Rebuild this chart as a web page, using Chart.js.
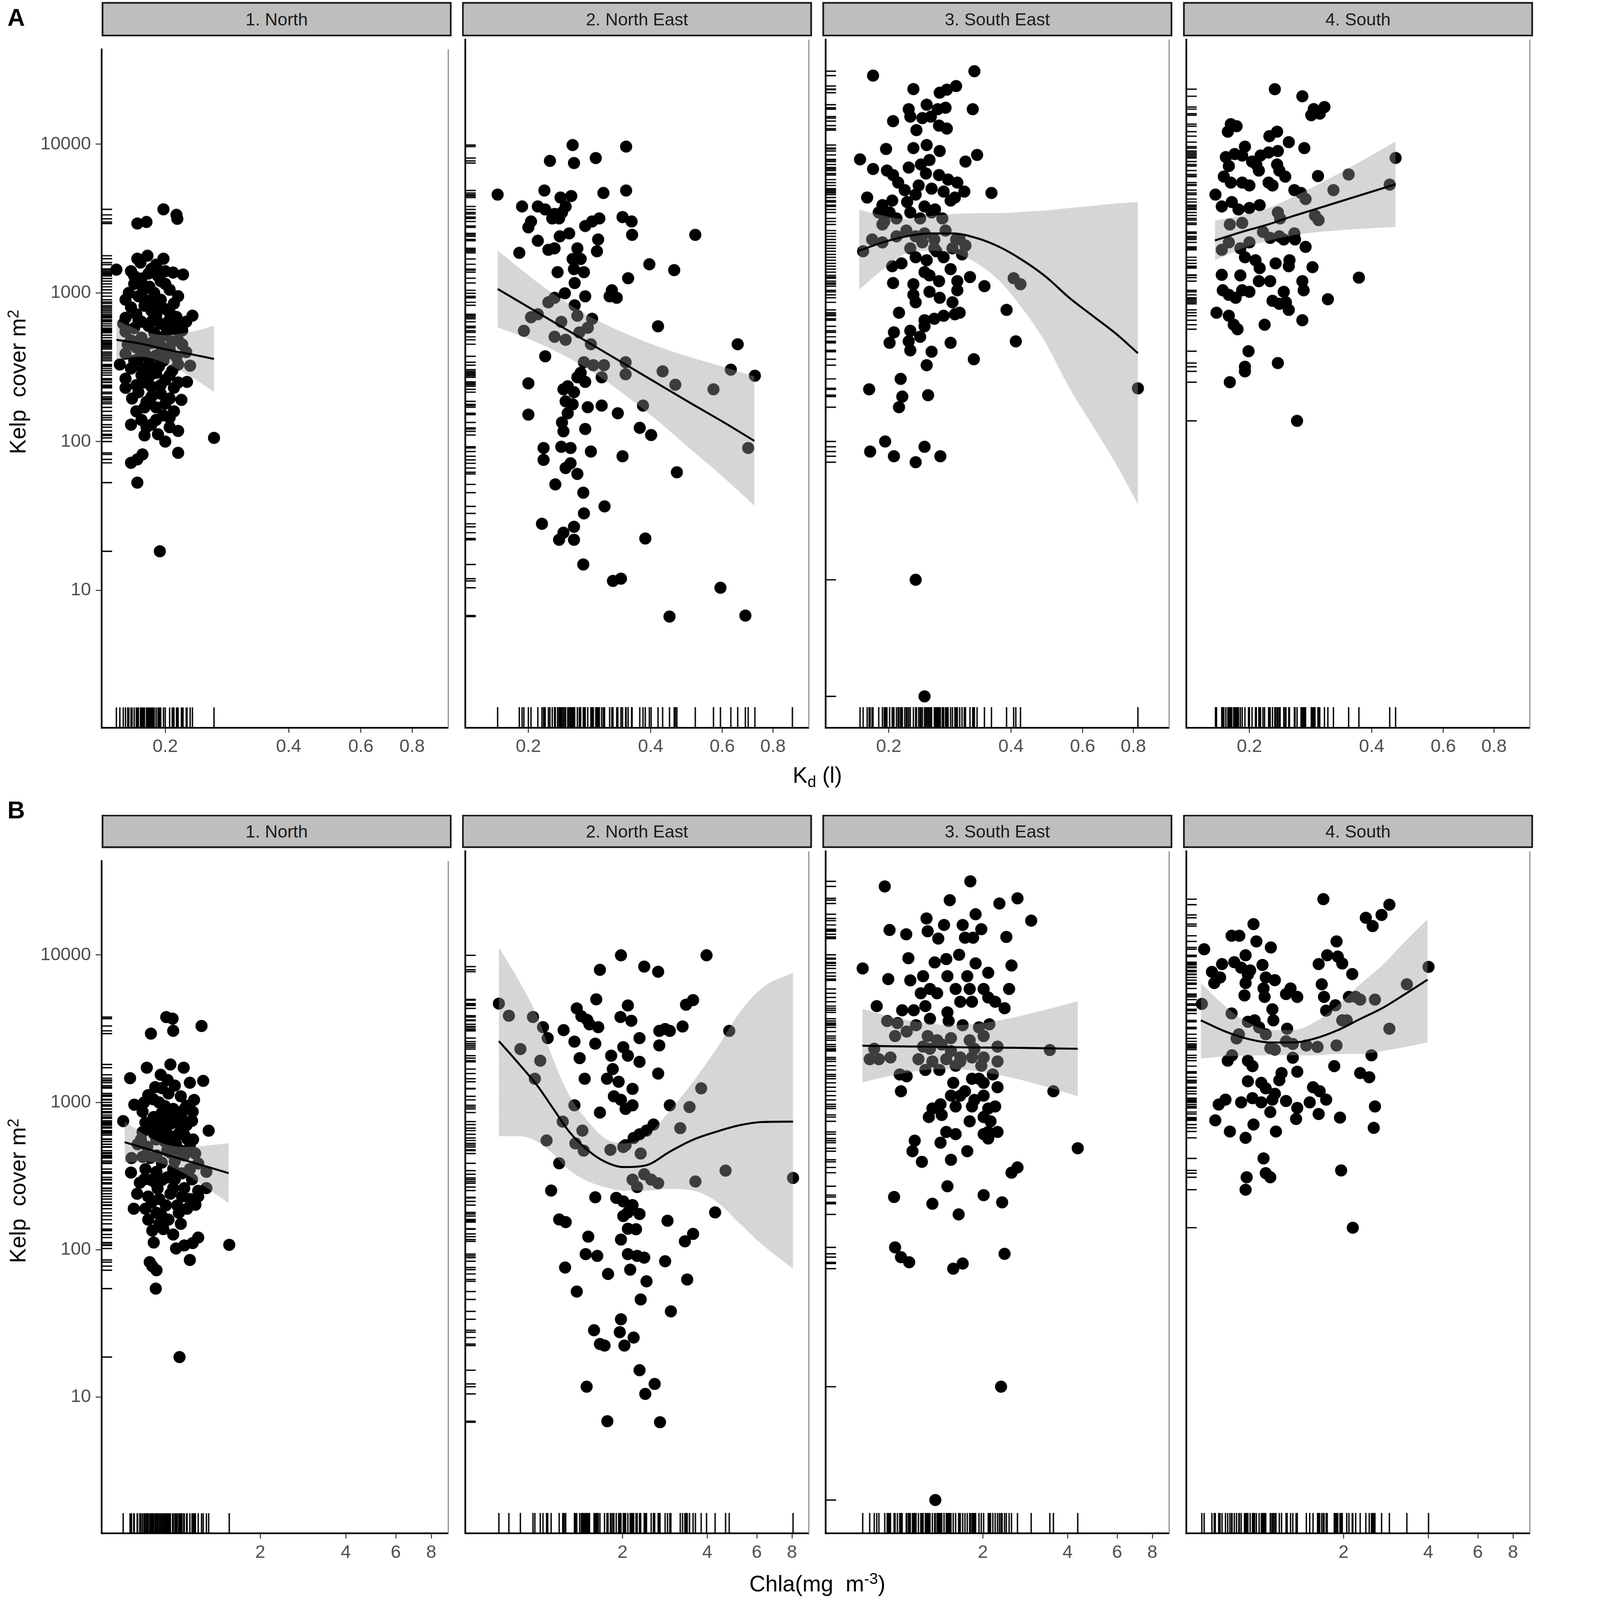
<!DOCTYPE html>
<html>
<head>
<meta charset="utf-8">
<script src="https://cdn.jsdelivr.net/npm/chart.js@4.4.1/dist/chart.umd.min.js"></script>
<style>
  html, body { margin: 0; padding: 0; background: #fff; overflow: hidden; }
  #page { position: absolute; left: 0; top: 0; width: 4562px; height: 4751px; background: #fff;
          transform-origin: 0 0; font-family: "Liberation Sans", Arial, sans-serif; }
  canvas { position: absolute; }
  .strip { position: absolute; box-sizing: border-box; background: #bebebe; border: 5px solid #1a1a1a;
           display: flex; align-items: center; justify-content: center; font-size: 52px; color: #1a1a1a; z-index: 2; }
  .tag { position: absolute; left: 22px; font-weight: bold; font-size: 72px; line-height: 1; }
  .xt { position: absolute; width: 1200px; text-align: center; font-size: 66px; line-height: 66px; white-space: pre; }
  .yt { position: absolute; width: 900px; height: 66px; text-align: center; font-size: 66px; line-height: 66px;
        white-space: pre; transform: rotate(-90deg); }
  .sup { font-size: 0.7em; position: relative; top: -0.45em; }
  .sub { font-size: 0.7em; position: relative; top: 0.25em; }
</style>
</head>
<body>
<div id="page"></div>
<script>
// ---- axes ----
const kelpTicks = [10, 100, 1000, 10000];
const kdTicks = [0.2, 0.4, 0.6, 0.8];
const chlaTicks = [2, 4, 6, 8];
const regions = ["1. North", "2. North East", "3. South East", "4. South"];

// ---- panel A : Kd vs kelp cover, [Kd, kelp] ----
const kdNorth = [[0.198,3650],[0.213,3350],[0.214,3150],[0.171,2930],[0.180,3000],[0.152,1435],
  [0.181,1780],[0.198,1700],[0.171,1700],[0.174,1600],[0.190,1550],[0.209,1370],[0.221,1330],[0.165,1400],[0.185,1450],
  [0.175,1250],[0.195,1200],[0.168,1150],[0.183,1100],[0.205,1050],[0.188,1000],[0.172,950],[0.160,900],[0.195,900],
  [0.210,850],[0.178,820],[0.165,800],[0.200,780],[0.185,760],[0.170,720],[0.190,700],[0.233,703],[0.160,680],[0.205,660],
  [0.175,640],[0.195,620],[0.182,600],[0.168,580],[0.210,570],[0.220,560],[0.160,550],[0.188,540],[0.200,520],[0.175,500],
  [0.165,480],[0.215,480],[0.185,460],[0.195,440],[0.170,430],[0.205,420],[0.225,400],[0.178,400],[0.160,390],[0.190,380],
  [0.213,370],[0.172,360],[0.198,350],[0.230,324],[0.155,330],[0.183,330],[0.165,310],[0.208,300],[0.190,290],[0.175,280],
  [0.226,252],[0.160,265],[0.200,260],[0.170,240],[0.185,235],[0.210,230],[0.219,191],[0.172,215],[0.195,210],[0.166,195],
  [0.205,195],[0.180,185],[0.190,170],[0.170,160],[0.210,160],[0.198,150],[0.175,140],[0.185,130],[0.165,130],[0.205,125],
  [0.215,118],[0.192,112],[0.178,110],[0.263,106],[0.200,100],[0.215,84],[0.176,82],[0.171,76],[0.165,72],[0.171,53],
  [0.194,18.3],[0.163,1000],[0.177,1050],[0.192,1300],[0.200,1150],[0.215,950],[0.187,870],[0.170,1250],[0.205,740],
  [0.158,620],[0.225,640],[0.213,690],[0.168,1300],[0.182,1350],[0.200,1400],[0.178,900],[0.192,800],[0.172,660],
  [0.186,650],[0.200,600],[0.214,620],[0.162,450],[0.178,450],[0.192,500],[0.208,470],[0.220,450],[0.168,350],[0.182,370],
  [0.200,380],[0.215,330],[0.176,310],[0.193,320],[0.184,280],[0.205,280],[0.160,230],[0.178,250],[0.195,240],[0.215,250],
  [0.185,200],[0.200,180],[0.178,170],[0.190,140],[0.205,145],[0.180,125]];

const kdNorthEast = [[0.257,8710],[0.348,8510],[0.226,6840],[0.259,6620],[0.293,7140],[0.168,4090],[0.219,4350],
  [0.240,3910],[0.255,4000],[0.306,4190],[0.348,4350],[0.193,3410],[0.211,3410],[0.220,3260],[0.232,3040],[0.242,3110],
  [0.247,3410],[0.238,2840],[0.229,2840],[0.203,2710],[0.200,2480],[0.276,2530],[0.287,2710],[0.299,2840],[0.341,2900],
  [0.359,2710],[0.211,2020],[0.239,2160],[0.252,2260],[0.297,2060],[0.295,1720],[0.360,2210],[0.515,2210],[0.190,1680],
  [0.224,1760],[0.232,1800],[0.264,1800],[0.257,1530],[0.269,1530],[0.259,1310],[0.274,1250],[0.236,1250],[0.397,1410],
  [0.457,1290],[0.352,1140],[0.260,1060],[0.246,906],[0.232,846],[0.321,948],[0.330,846],[0.317,865],[0.276,865],
  [0.260,754],[0.264,643],[0.287,614],[0.224,789],[0.203,628],[0.211,657],[0.195,511],[0.241,586],[0.232,466],[0.247,445],
  [0.267,499],[0.280,535],[0.285,416],[0.417,547],[0.655,416],[0.220,346],[0.274,316],[0.289,302],[0.307,302],[0.303,251],
  [0.347,316],[0.347,263],[0.428,275],[0.460,224],[0.630,282],[0.571,209],[0.722,257],[0.200,229],[0.264,251],[0.269,269],
  [0.276,234],[0.244,209],[0.250,219],[0.259,200],[0.247,174],[0.257,166],[0.250,145],[0.280,159],[0.303,163],[0.332,145],
  [0.383,163],[0.200,142],[0.242,126],[0.244,110],[0.276,114],[0.376,116],[0.401,104],[0.695,85.3],[0.218,85.3],
  [0.241,86.9],[0.254,85.3],[0.285,80.8],[0.341,75.2],[0.218,71.2],[0.247,62.8],[0.254,67.5],[0.264,57.4],[0.464,58.9],
  [0.233,48.9],[0.273,43.1],[0.308,35.0],[0.274,31.4],[0.216,26.8],[0.238,21.0],[0.244,23.4],[0.259,25.6],[0.259,21.0],
  [0.388,21.4],[0.273,14.4],[0.323,11.2],[0.338,11.6],[0.594,10.1],[0.445,6.5],[0.684,6.6],[0.893,null]];

const kdSouthEast = [[0.183,25150],[0.325,26900],[0.230,20480],[0.267,19380],[0.278,20290],[0.293,21440],[0.248,16130],
  [0.264,15060],[0.276,15410],[0.224,15060],[0.322,15060],[0.205,12550],[0.226,13440],[0.242,13140],[0.254,13440],
  [0.266,11720],[0.278,11200],[0.234,10940],[0.197,8210],[0.230,8320],[0.248,8710],[0.267,7950],[0.330,7490],[0.170,7000],
  [0.309,6770],[0.183,6040],[0.198,5900],[0.205,5510],[0.224,6180],[0.240,6470],[0.252,6930],[0.247,5640],[0.266,5510],
  [0.280,5140],[0.295,4910],[0.307,4280],[0.211,4910],[0.219,4380],[0.237,4700],[0.255,4480],[0.273,4280],[0.291,3910],
  [0.177,3910],[0.193,3480],[0.204,3730],[0.222,3650],[0.233,4090],[0.245,3410],[0.260,3260],[0.284,3730],[0.358,4190],
  [0.189,3110],[0.195,2710],[0.201,3110],[0.209,2840],[0.226,3110],[0.239,2840],[0.255,3110],[0.271,2840],[0.173,1720],
  [0.182,2060],[0.193,2590],[0.221,2360],[0.233,2160],[0.245,2260],[0.259,2060],[0.276,2360],[0.293,2060],[0.309,1880],
  [0.303,1640],[0.193,1970],[0.209,2160],[0.226,1800],[0.242,1970],[0.259,1800],[0.287,1800],[0.299,2060],[0.204,1370],
  [0.215,1430],[0.233,1570],[0.248,1500],[0.262,1720],[0.273,1570],[0.245,1250],[0.284,1310],[0.317,1160],[0.344,1010],
  [0.205,1060],[0.230,1040],[0.252,1190],[0.266,1090],[0.295,1090],[0.230,885],[0.252,926],[0.267,846],[0.295,948],
  [0.287,789],[0.233,789],[0.406,1140],[0.422,1040],[0.212,673],[0.390,703],[0.245,600],[0.259,614],[0.273,643],
  [0.291,657],[0.206,499],[0.226,511],[0.245,547],[0.299,673],[0.411,435],[0.201,425],[0.224,435],[0.239,466],[0.284,425],
  [0.226,379],[0.255,371],[0.324,331],[0.248,302],[0.214,245],[0.179,209],[0.250,191],[0.216,187],[0.212,159],[0.821,212],
  [0.180,80.8],[0.196,94.2],[0.206,75.2],[0.233,68.7],[0.245,86.9],[0.268,75.2],[0.233,11.4],[0.245,1.92]];

const kdSouth = [[0.231,20460],[0.270,18350],[0.288,15070],[0.306,15570],[0.284,13750],[0.298,14070],[0.180,11990],
  [0.186,11610],[0.177,10690],[0.224,9980],[0.234,10690],[0.250,9110],[0.273,8320],[0.195,8510],[0.175,7250],[0.184,7590],
  [0.192,7420],[0.203,6770],[0.213,7420],[0.223,7770],[0.235,7950],[0.234,6470],[0.245,5380],[0.173,5380],[0.180,4910],
  [0.192,4910],[0.200,4700],[0.211,5900],[0.178,6320],[0.208,6470],[0.223,4910],[0.228,4700],[0.237,5900],[0.295,5430],
  [0.351,5560],[0.458,7150],[0.258,4380],[0.268,4190],[0.275,3820],[0.322,4380],[0.443,4760],[0.165,4090],[0.171,3410],
  [0.181,3650],[0.188,3260],[0.200,3330],[0.212,3480],[0.235,3110],[0.238,2840],[0.290,2970],[0.296,2770],[0.179,2590],
  [0.192,2650],[0.216,2310],[0.225,2110],[0.237,2160],[0.243,2060],[0.258,2260],[0.259,2060],[0.171,1760],[0.178,1970],
  [0.190,1800],[0.200,1970],[0.195,1570],[0.207,1500],[0.212,1330],[0.275,1840],[0.232,1430],[0.251,1500],[0.250,1370],
  [0.286,1350],[0.171,1200],[0.190,1190],[0.211,1090],[0.225,1090],[0.270,1090],[0.272,948],[0.372,1150],[0.172,948],
  [0.178,885],[0.185,846],[0.192,948],[0.200,926],[0.243,926],[0.228,808],[0.237,771],[0.250,703],[0.246,789],[0.312,827],
  [0.166,673],[0.178,643],[0.183,560],[0.187,523],[0.218,560],[0.270,600],[0.199,374],[0.195,295],[0.195,275],[0.235,312],
  [0.179,233],[0.262,129]];

// smooth fits, rows of [Kd, fit, lower, upper]
const kdNorthSmooth = [[0.152,484,357,655],[0.175,455,372,557],[0.2,418,336,520],[0.23,388,276,546],[0.263,360,216,601]];
const kdNorthEastSmooth = [[0.168,968,539,1738],[0.22,630,405,980],[0.26,483,321,726],[0.3,385,253,586],
  [0.4,243,141,419],[0.5,170,84.4,342],[0.6,128,55.4,296],[0.72,95,35.4,255]];
const kdSouthEastSmooth = [[0.1692,1734,960,3260],[0.1934,1972,1300,2970],[0.2206,2160,1660,2810],[0.2518,2260,1734,2940],
  [0.2874,2260,1680,3040],[0.328,2110,1443,3080],[0.3743,1840,1096,3080],[0.4272,1500,713,3140],[0.4876,1164,421,3210],
  [0.5564,846,214,3330],[0.635,643,120,3440],[0.7246,489,67,3570],[0.8208,363,36,3650]];
const kdSouthSmooth = [[0.1645,2030,1498,2751],[0.1948,2344,1824,3012],[0.2219,2585,2012,3322],[0.2529,2912,2185,3882],
  [0.3036,3394,2321,4962],[0.3738,4039,2421,6737],[0.458,4790,2496,9192]];

// ---- panel B : Chla vs kelp cover, [Chla, kelp] ----
const chlaNorth = [[0.933,3790],[0.982,3700],[0.987,3060],[0.824,2930],[1.242,3300],[0.696,1460],[0.797,1720],[0.965,1810],
  [1.075,1720],[0.892,1540],[1.130,1360],[1.259,1400],[0.944,1420],[0.853,1270],[0.806,1120],[1.169,1040],[0.720,964],
  [0.770,866],[0.923,944],[0.987,904],[1.156,866],[1.056,796],[0.658,746],[0.843,796],[0.788,730],[0.882,670],[0.965,715],
  [1.033,616],[1.105,565],[1.316,643],[0.923,542],[0.843,616],[0.770,629],[1.010,519],[1.130,497],[0.704,419],[0.770,428],
  [0.862,437],[0.965,456],[1.080,437],[1.209,385],[1.292,338],[0.701,334],[0.788,353],[0.862,338],[0.987,353],[1.130,353],
  [0.753,285],[0.824,298],[0.902,298],[0.987,262],[1.080,262],[1.209,251],[1.292,262],[0.737,240],[0.806,230],[0.882,221],
  [0.965,240],[1.130,221],[1.209,230],[0.717,190],[0.788,190],[0.862,178],[1.033,178],[1.105,190],[1.182,202],[0.806,160],
  [0.882,150],[0.833,135],[0.912,138],[0.987,127],[1.010,102],[1.080,107],[1.156,111],[1.209,121],[0.843,112],[1.555,108],
  [0.816,82.4],[0.833,77.4],[0.862,72.6],[1.130,85.3],[0.857,54.5],[1.039,18.7],[0.880,1000],[0.950,1150],[0.900,850],
  [1.000,750],[0.920,700],[1.050,680],[0.860,560],[0.950,600],[1.000,400],[0.900,390],[1.060,330],[0.940,310],[0.870,260],
  [1.020,200],[0.930,200],[0.800,500],[1.100,700],[0.740,520],[0.780,1000],[0.840,1050],[0.900,1250],[1.000,1300],
  [1.050,1100],[1.100,950],[0.820,700],[0.880,780],[0.960,820],[1.080,900],[1.150,750],[0.760,560],[0.900,600],
  [1.000,560],[1.080,600],[1.160,560],[0.820,420],[0.940,470],[1.050,470],[1.180,450],[0.780,300],[0.860,280],
  [1.000,300],[1.150,300],[0.830,210],[1.060,230],[0.900,170],[0.950,160],[1.050,150]];

const chlaNorthEast = [[0.727,4170],[0.789,3460],[0.867,2070],[1.020,1730],[0.976,1310],[0.961,3390],[1.043,2900],
  [1.084,2450],[1.235,2770],[1.349,2320],[1.375,3870],[1.428,3430],[1.498,3240],[1.526,3030],[1.639,2900],[1.613,4450],
  [1.600,2250],[1.662,7010],[1.974,8770],[2.388,7370],[2.676,6810],[3.976,8770],[2.089,4050],[1.966,3390],[2.149,3200],
  [2.298,2450],[2.012,2130],[2.089,1870],[1.822,1870],[1.408,1800],[1.467,1310],[1.761,1310],[1.846,1520],[1.937,1250],
  [2.298,1700],[2.701,2190],[2.701,2740],[2.833,2820],[2.944,2740],[3.268,2930],[2.676,1420],[3.362,4100],[3.561,4400],
  [4.787,2740],[3.805,1130],[2.170,1120],[1.863,1000],[1.974,946],[2.050,823],[2.170,870],[1.662,778],[1.349,870],
  [2.944,870],[3.459,847],[1.226,677],[1.440,589],[2.576,647],[2.433,589],[2.298,557],[2.190,526],[2.050,471],[3.207,612],
  [1.074,506],[1.360,484],[1.455,433],[1.811,438],[2.012,458],[2.320,414],[4.646,318],[3.630,269],[8.07,284],[1.191,356],
  [2.170,277],[2.388,301],[2.528,277],[2.676,262],[2.254,247],[1.115,234],[1.600,211],[1.899,209],[2.012,198],[2.170,187],
  [2.089,167],[2.298,163],[2.012,158],[2.889,147],[4.265,167],[1.191,150],[1.256,144],[1.511,115],[1.974,110],[2.089,130],
  [2.233,129],[3.331,107],[3.561,120],[1.479,87.9],[1.626,85.5],[2.089,87.9],[2.254,85.5],[2.388,83.2],[2.833,78.7],
  [1.250,71.5],[1.776,64.7],[2.129,69.2],[2.433,57.8],[3.394,59.4],[1.375,49.4],[2.320,43.7],[2.970,36.4],[1.974,32.2],
  [1.584,27.2],[1.955,26.4],[2.190,24.3],[1.662,22.0],[1.726,21.5],[2.030,21.5],[2.298,14.7],[1.491,11.4],[2.601,11.9],
  [2.409,10.2],[1.766,6.7],[2.717,6.6]];

const chlaSouthEast = [[0.896,25350],[1.805,27400],[1.525,20500],[2.289,19470],[2.654,21100],[2.969,14960],[1.261,15470],
  [1.455,14000],[1.695,14000],[1.884,16500],[1.974,13110],[0.932,12950],[1.068,12130],[1.273,12700],[1.388,11350],
  [1.727,11500],[1.846,11500],[2.423,11650],[1.087,8390],[1.348,7860],[1.482,8280],[1.646,8840],[1.884,7750],[2.527,7500],
  [0.748,7160],[0.922,6080],[1.104,5960],[1.226,6360],[1.297,5220],[1.496,6360],[1.760,6360],[2.089,6700],[2.478,5220],
  [1.203,4890],[1.375,4890],[1.600,5220],[1.795,5220],[2.012,5220],[2.211,4290],[2.388,3880],[0.839,4010],[1.033,3760],
  [1.136,3760],[1.249,4010],[1.496,3640],[1.662,4290],[1.829,4290],[2.089,4580],[0.914,3190],[0.994,3090],[1.157,2990],
  [1.297,3300],[1.511,3190],[1.695,2990],[1.937,2890],[2.108,3030],[0.975,2530],[1.072,2710],[1.273,2530],[1.375,2370],
  [1.540,2450],[1.795,2370],[2.012,2530],[0.822,2080],[0.854,1770],[0.939,1820],[1.226,2150],[1.297,2080],[1.428,2220],
  [1.540,2010],[1.662,1820],[1.866,2080],[2.254,2150],[3.458,2040],[0.792,1770],[1.180,1770],[1.323,1710],[1.482,1770],
  [1.662,1710],[1.829,1820],[2.012,1820],[2.254,1710],[1.013,1400],[1.072,1360],[1.249,1500],[1.401,1500],[1.600,1600],
  [1.974,1600],[2.169,1400],[1.023,1080],[1.829,1310],[1.937,1310],[2.012,1230],[2.254,1150],[1.569,1230],[1.727,1080],
  [1.540,1010],[1.662,1010],[1.866,945],[2.012,1010],[1.323,828],[1.414,884],[1.600,855],[1.829,855],[2.089,828],
  [2.211,855],[1.285,726],[1.428,750],[1.795,680],[2.012,726],[2.128,680],[2.089,577],[2.254,577],[1.482,577],[1.600,558],
  [2.012,558],[2.089,522],[1.145,505],[1.414,489],[1.124,429],[1.214,364],[1.540,376],[1.760,429],[3.561,1080],[4.345,449],
  [2.654,334],[2.527,308],[1.496,250],[0.967,212],[1.323,191],[2.012,218],[2.341,195],[1.640,162],[0.975,97.5],[1.023,83.9],
  [1.094,77.5],[2.388,88.3],[1.569,70.2],[1.695,76.0],[2.320,11.4],[1.355,1.99]];

const chlaSouth = [[0.639,9640],[0.957,14180],[0.800,11850],[0.852,11850],[0.980,10870],[1.103,9900],[1.695,20830],
  [2.399,15640],[2.537,13760],[2.729,16340],[2.909,19130],[1.888,10870],[1.749,8780],[1.907,8600],[1.978,7730],[1.631,7660],
  [2.147,6570],[0.740,7660],[0.818,7890],[0.865,7250],[0.897,8780],[0.914,6510],[0.931,6950],[0.681,6800],[0.694,5720],
  [0.728,6240],[1.030,7560],[1.058,6240],[1.140,5980],[1.039,5260],[1.048,4620],[0.897,5720],[0.889,4730],[1.249,4830],
  [1.369,4620],[1.296,5260],[1.673,5610],[1.704,4620],[1.870,4060],[2.089,4620],[1.734,3740],[2.208,4620],[2.291,4430],
  [2.585,4430],[3.356,5610],[4.008,7340],[0.627,4150],[0.800,3580],[0.966,3220],[1.117,3820],[1.126,3220],[0.914,3150],
  [0.849,2600],[0.833,2440],[1.002,2890],[1.058,2600],[1.260,2830],[2.909,2830],[1.978,3220],[2.052,3220],[1.249,2330],
  [1.475,2190],[1.616,2140],[1.888,2190],[1.098,2100],[1.140,2050],[1.320,2240],[0.775,1730],[0.803,1880],[0.914,1730],
  [0.949,1590],[1.320,1810],[1.204,1430],[1.369,1460],[1.853,1590],[2.513,1880],[0.914,1260],[1.020,1230],[1.058,1130],
  [1.140,1040],[1.182,1280],[2.291,1430],[2.467,1340],[1.558,1150],[1.645,1080],[1.734,950],[0.720,881],[0.761,950],
  [0.865,910],[0.949,971],[1.020,910],[1.117,950],[1.249,930],[1.369,836],[1.516,910],[2.585,855],[1.098,784],[1.356,705],
  [1.631,761],[1.942,720],[0.700,690],[0.789,581],[0.897,527],[0.957,647],[1.150,581],[2.560,615],[1.039,384],[1.058,306],
  [1.098,287],[0.905,287],[0.897,237],[1.960,319],[2.157,132]];

// smooth fits, rows of [Chla, fit, lower, upper]
const chlaNorthSmooth = [[0.666,537,390,740],[0.770,494,396,616],[0.923,445,380,521],[1.080,406,330,499],
  [1.292,367,264,510],[1.548,331,207,530]];
const chlaNorthEastSmooth = [[0.727,2340,541,9910],[0.854,1660,541,5990],[0.995,1180,497,3430],[1.136,823,409,1750],
  [1.299,573,318,1000],[1.511,433,269,677],[1.726,366,247,526],[2.012,336,234,484],[2.433,346,234,541],[2.944,426,240,800],
  [3.561,512,234,1250],[4.306,579,198,2070],[5.21,640,141,3630],[6.30,673,101,5350],[8.07,677,70,6700]];
const chlaSouthEastSmooth = [[0.746,2180,1240,3840],[0.939,2160,1370,3410],[1.249,2150,1500,3090],[1.540,2130,1520,2990],
  [2.012,2120,1450,3090],[2.676,2110,1300,3420],[3.561,2090,1120,3910],[4.345,2080,1000,4320]];
const chlaSouthSmooth = [[0.622,3220,1790,5730],[0.761,2710,1850,3980],[0.914,2420,1870,3120],[1.098,2290,1880,2770],
  [1.320,2290,1880,2770],[1.587,2440,1880,3150],[1.907,2770,1920,4070],[2.291,3290,1920,5610],[2.754,3900,2010,7570],
  [3.309,4830,2140,10870],[3.977,6030,2290,15300]];

// ---- layout (design units = reference pixels) ----
Chart.defaults.font.family = "'Liberation Sans', Arial, sans-serif";
const pageW = 4562, pageH = 4751;
const page = document.getElementById("page");
const fit = Math.min(window.innerWidth / pageW, window.innerHeight / pageH) || 1;
page.style.transform = "scale(" + fit + ")";
const ratio = (window.devicePixelRatio || 1) * fit;

const panelX = [302, 1372, 2442, 3513];
const panelW = 1039;
const pad = 8, axisH = 110;

const rows = [
  { tag: "A", tagTop: 16, stripTop: 6, top: 108, bottom: 2160, xmin: 0.14, xmax: 0.98, ticks: kdTicks,
    points: [kdNorth, kdNorthEast, kdSouthEast, kdSouth],
    smooth: [kdNorthSmooth, kdNorthEastSmooth, kdSouthEastSmooth, kdSouthSmooth],
    xtitle: 'K<span class="sub">d</span> (l)', xtitleTop: 2269 },
  { tag: "B", tagTop: 2369, stripTop: 2419, top: 2518, bottom: 4553, xmin: 0.553, xmax: 9.18, ticks: chlaTicks,
    points: [chlaNorth, chlaNorthEast, chlaSouthEast, chlaSouth],
    smooth: [chlaNorthSmooth, chlaNorthEastSmooth, chlaSouthEastSmooth, chlaSouthSmooth],
    xtitle: 'Chla(mg  m<span class="sup">-3</span>)', xtitleTop: 4669 }
];

const rugPlugin = {
  id: "rug",
  beforeDatasetsDraw(chart) {
    const { ctx, chartArea: a, scales: { x, y } } = chart;
    const lx = (a.right - a.left) * 0.03, ly = (a.bottom - a.top) * 0.03;
    ctx.save();
    ctx.strokeStyle = "#000";
    ctx.lineWidth = 4;
    ctx.beginPath();
    for (const p of chart.data.datasets[3].data) {
      const px = x.getPixelForValue(p.x);
      ctx.moveTo(px, a.bottom); ctx.lineTo(px, a.bottom - ly);
      if (p.y != null) {
        const py = y.getPixelForValue(p.y);
        ctx.moveTo(a.left, py); ctx.lineTo(a.left + lx, py);
      }
    }
    ctx.stroke();
    ctx.restore();
  }
};

const framePlugin = {
  id: "frame",
  afterDraw(chart) {
    const { ctx, chartArea: a } = chart;
    ctx.save();
    ctx.strokeStyle = "#7f7f7f";
    ctx.lineWidth = 3;
    ctx.beginPath();
    ctx.moveTo(a.right, a.top); ctx.lineTo(a.right, a.bottom);
    ctx.stroke();
    ctx.restore();
  }
};

function addDiv(cls, html, style) {
  const d = document.createElement("div");
  d.className = cls;
  d.innerHTML = html;
  Object.assign(d.style, style);
  page.appendChild(d);
  return d;
}

function drawPanel(row, i) {
  const yw = i === 0 ? 302 : pad;
  const left = panelX[i] - yw;
  const w = yw + panelW + pad;
  const h = pad + (row.bottom - row.top) + axisH;
  const c = document.createElement("canvas");
  Object.assign(c.style, { left: left + "px", top: (row.top - pad) + "px", width: w + "px", height: h + "px" });
  c.width = w; c.height = h;
  page.appendChild(c);

  const sm = row.smooth[i];
  const curve = { pointRadius: 0, cubicInterpolationMode: "monotone", fill: false };
  new Chart(c, {
    type: "line",
    data: {
      datasets: [
        { ...curve, data: sm.map(r => ({ x: r[0], y: r[1] })), borderColor: "#000", borderWidth: 6 },
        { ...curve, data: sm.map(r => ({ x: r[0], y: r[3] })), borderColor: "transparent", borderWidth: 0,
          fill: "+1", backgroundColor: "rgba(153,153,153,0.4)" },
        { ...curve, data: sm.map(r => ({ x: r[0], y: r[2] })), borderColor: "transparent", borderWidth: 0 },
        { data: row.points[i].map(p => ({ x: p[0], y: p[1] })), showLine: false, pointRadius: 18,
          pointBackgroundColor: "#000", pointBorderWidth: 0, pointBorderColor: "#000" }
      ]
    },
    options: {
      responsive: false,
      animation: false,
      devicePixelRatio: ratio,
      events: [],
      layout: { padding: { top: pad, right: pad, left: 0, bottom: 0 } },
      plugins: { legend: { display: false }, tooltip: { enabled: false } },
      scales: {
        x: {
          type: "logarithmic", min: row.xmin, max: row.xmax,
          afterBuildTicks: s => { s.ticks = row.ticks.map(v => ({ value: v })); },
          afterFit: s => { s.height = axisH; },
          ticks: { autoSkip: false, maxRotation: 0, minRotation: 0, padding: 10, color: "#4d4d4d",
                   font: { size: 54 }, callback: v => String(v) },
          grid: { display: true, drawOnChartArea: false, drawTicks: true, tickLength: 15, tickWidth: 3,
                  tickColor: "#333", color: "#333" },
          border: { display: true, color: "#000", width: 5 }
        },
        y: {
          type: "logarithmic", min: 1.19, max: 43500,
          afterBuildTicks: s => { s.ticks = kelpTicks.map(v => ({ value: v })); },
          afterFit: s => { s.width = yw; },
          ticks: { display: i === 0, padding: 14, color: "#4d4d4d", font: { size: 54 }, callback: v => String(v) },
          grid: { display: true, drawOnChartArea: false, drawTicks: i === 0, tickLength: i === 0 ? 18 : 0,
                  tickWidth: 3, tickColor: "#333", color: "#333" },
          border: { display: true, color: "#000", width: 5 }
        }
      }
    },
    plugins: [rugPlugin, framePlugin]
  });

  addDiv("strip", regions[i], {
    left: panelX[i] + "px", top: row.stripTop + "px", width: panelW + "px", height: (row.top - row.stripTop) + "px"
  });
}

for (const row of rows) {
  for (let i = 0; i < 4; i++) drawPanel(row, i);
  addDiv("tag", row.tag, { top: row.tagTop + "px" });
  addDiv("xt", row.xtitle, { left: (2427 - 600) + "px", top: row.xtitleTop + "px" });
  const cy = (row.top + row.bottom) / 2;
  addDiv("yt", 'Kelp  cover m<span class="sup">2</span>', { left: (53 - 450) + "px", top: (cy - 33) + "px" });
}
</script>
</body>
</html>
